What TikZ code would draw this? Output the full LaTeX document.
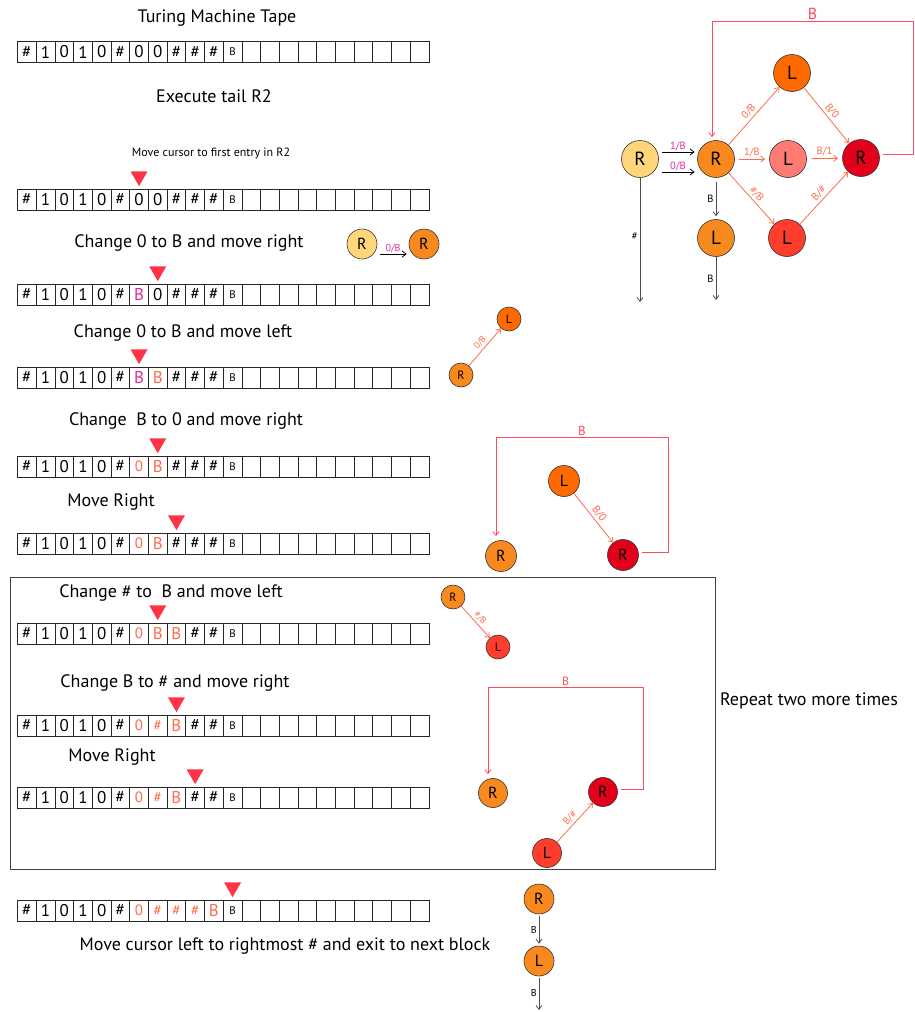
\documentclass[tikz,border=0pt]{standalone}
\usepackage{fontspec}
\setmainfont{PT Sans}
\usetikzlibrary{arrows.meta,shapes.geometric}

\definecolor{cursorred}{HTML}{FF3347}
\definecolor{salmon}{HTML}{FF6B4D}
\definecolor{mag}{HTML}{DD2A9B}
\definecolor{nyellow}{HTML}{FFD679}
\definecolor{norange}{HTML}{F7891F}
\definecolor{ndark}{HTML}{FF6A00}
\definecolor{npink}{HTML}{FF7B73}
\definecolor{nred}{HTML}{FF3D2D}
\definecolor{ncrim}{HTML}{E3001B}
\definecolor{loopred}{HTML}{FF4A5C}

\newcommand\fs[1]{\fontsize{#1}{#1}\selectfont}
\newcommand\sal[1]{\textcolor{salmon}{#1}}
\newcommand\salz{\sal{\fs{15}0}}
\newcommand\salh{\sal{\fs{15}\#}}
\newcommand\salB{\sal{B}}
\newcommand\magB{\textcolor{mag}{B}}
\newcommand\Bsm{{\fs{11}B}}

% one tape row: name prefix, top edge, the twelve written cells (ten blanks follow)
\newcommand\taperow[3]{%
  \foreach \c [count=\i from 0] in {#3,{},{},{},{},{},{},{},{},{},{}}
    \node[cell] (#1-\i) at ({17.5+(\i+0.5)*18.7},{#2+10.5}) {\c};
}

\begin{document}
\begin{tikzpicture}[x=1pt,y=-1pt,
  cell/.style={draw=black!85, line width=0.8pt, minimum width=18.7pt,
    minimum height=21pt, inner sep=0pt, font=\fs{17}},
  cursor/.style={regular polygon, regular polygon sides=3,
    shape border rotate=180, fill=cursorred, minimum size=19.6pt, inner sep=0pt},
  heading/.style={font=\fs{18}, inner sep=0pt},
  state/.style={circle, draw=black!80, line width=0.6pt, inner sep=0pt},
  bigstate/.style={state, minimum size=37pt, font=\fs{19}},
  midstate/.style={state, minimum size=31pt, font=\fs{16}},
  smallstate/.style={state, minimum size=24pt, font=\fs{12}},
  arr/.style={-{Straight Barb[length=4pt,width=6pt]}, line width=0.8pt},
  grey arr/.style={arr, draw=black!70},
  sal arr/.style={arr, draw=salmon},
  loop arr/.style={arr, draw=loopred},
  elab/.style={font=\fs{10.5}, inner sep=2pt},
]
\useasboundingbox (0,0) rectangle (914,1012);

% ---------- headings ----------
\node[heading] (title) at (217,18) {Turing Machine Tape};
\node[heading] (exec) at (214,96) {Execute tail R2};
\node[heading, font=\fs{12}] (movecur) at (211,153) {Move cursor to first entry in R2};
\node[heading] (h3) at (189,243) {Change 0 to B and move right};
\node[heading] (h4) at (183,333) {Change 0 to B and move left};
\node[heading] (h5) at (186,421) {Change\ \ B to 0 and move right};
\node[heading] (h6) at (111,502) {Move Right};
\node[heading] (h7) at (171,593) {Change \# to\ \ B and move left};
\node[heading] (h8) at (175,683) {Change B to \# and move right};
\node[heading] (h9) at (112,757) {Move Right};
\node[heading] (h10) at (285,946) {Move cursor left to rightmost \# and exit to next block};
\node[heading] (rep) at (809,701) {Repeat two more times};

% ---------- tapes ----------
\taperow{T1}{41.5}{\#,1,0,1,0,\#,0,0,\#,\#,\#,\Bsm}
\taperow{T2}{189}{\#,1,0,1,0,\#,0,0,\#,\#,\#,\Bsm}
\taperow{T3}{284}{\#,1,0,1,0,\#,\magB,0,\#,\#,\#,\Bsm}
\taperow{T4}{367}{\#,1,0,1,0,\#,\magB,\salB,\#,\#,\#,\Bsm}
\taperow{T5}{456}{\#,1,0,1,0,\#,\salz,\salB,\#,\#,\#,\Bsm}
\taperow{T6}{533}{\#,1,0,1,0,\#,\salz,\salB,\#,\#,\#,\Bsm}
\taperow{T7}{623}{\#,1,0,1,0,\#,\salz,\salB,\salB,\#,\#,\Bsm}
\taperow{T8}{715}{\#,1,0,1,0,\#,\salz,\salh,\salB,\#,\#,\Bsm}
\taperow{T9}{787}{\#,1,0,1,0,\#,\salz,\salh,\salB,\#,\#,\Bsm}
\taperow{T10}{900}{\#,1,0,1,0,\#,\salz,\salh,\salh,\salh,\salB,\Bsm}

% ---------- read/write head markers ----------
\node[cursor] (k2) at ([yshift=12.3pt]T2-6.north) {};
\node[cursor] (k3) at ([yshift=12.3pt]T3-7.north) {};
\node[cursor] (k4) at ([yshift=12.3pt]T4-6.north) {};
\node[cursor] (k5) at ([yshift=12.3pt]T5-7.north) {};
\node[cursor] (k6) at ([yshift=12.3pt]T6-8.north) {};
\node[cursor] (k7) at ([yshift=12.3pt]T7-7.north) {};
\node[cursor] (k8) at ([yshift=12.3pt]T8-8.north) {};
\node[cursor] (k9) at ([yshift=12.3pt]T9-9.north) {};
\node[cursor] (k10) at ([yshift=12.3pt]T10-11.north) {};

% ---------- full machine for tail R2 ----------
\node[bigstate, fill=nyellow] (s0) at (640,159) {R};
\node[bigstate, fill=norange] (m) at (716,159) {R};
\node[bigstate, fill=ndark] (tl) at (792,73) {L};
\node[bigstate, fill=npink] (ml) at (788,159) {L};
\node[bigstate, fill=nred] (bl) at (787,238) {L};
\node[bigstate, fill=ncrim] (rr) at (861,158) {R};
\node[bigstate, fill=norange] (dl) at (716,238) {L};
\coordinate (s0end) at (640,302);
\coordinate (dlend) at (716,300);

\draw[arr, shorten <=3.5pt, shorten >=2.5pt] ([yshift=7pt]s0.east) --
  node[above, elab, inner sep=1pt, text=mag] {1/B} ([yshift=7pt]m.west);
\draw[arr, shorten <=3.5pt, shorten >=2.5pt] ([yshift=-13pt]s0.east) --
  node[above, elab, inner sep=1pt, text=mag] {0/B} ([yshift=-13pt]m.west);
\draw[grey arr] (s0) -- node[left, elab, pos=0.47] {\#} (s0end);
\draw[grey arr, shorten <=4pt, shorten >=3pt] (m) -- node[left, elab] {B} (dl);
\draw[grey arr] (dl) -- node[left, elab] {B} (dlend);

\draw[sal arr] (m) -- node[sloped, above, elab, text=salmon] {0/B} (tl);
\draw[sal arr, shorten <=4pt, shorten >=4pt] (m) -- node[above, elab, text=salmon] {1/B} (ml);
\draw[sal arr] (m) -- node[sloped, above, elab, text=salmon] {\#/B} (bl);
\draw[sal arr] (tl) -- node[sloped, above, elab, text=salmon] {B/0} (rr);
\draw[sal arr, shorten <=4pt, shorten >=4pt] (ml) -- node[above, elab, text=salmon] {B/1} (rr);
\draw[sal arr] (bl) -- node[sloped, above, elab, text=salmon] {B/\#} (rr);
\draw[loop arr, shorten <=3pt, shorten >=3pt] ([yshift=4pt]rr.east) -| (913,21)
  -| node[pos=0.25, above, inner sep=1pt, font=\fs{16}, text=loopred] {B} ([xshift=-4pt]m.north);

% ---------- step: change 0 to B and move right ----------
\node[midstate, fill=nyellow, minimum size=30pt] (a1) at (362,244) {R};
\node[midstate, fill=norange, minimum size=30pt] (a2) at (424,244) {R};
\draw[arr, shorten <=3pt, shorten >=2pt] ([yshift=-10pt]a1.east) --
  node[above, elab, font=\fs{10}, inner sep=0.3pt, text=mag] {0/B} ([yshift=-10pt]a2.west);

% ---------- step: change 0 to B and move left ----------
\node[smallstate, fill=norange] (b1) at (461,375) {R};
\node[smallstate, fill=ndark] (b2) at (509,319) {L};
\draw[sal arr] (b1) -- node[sloped, above, elab, font=\fs{9}, text=salmon] {0/B} (b2);

% ---------- step: change B to 0, move right ----------
\node[midstate, fill=ndark] (c1) at (564,481) {L};
\node[midstate, fill=ncrim] (c2) at (623,555) {R};
\node[midstate, fill=norange] (c3) at (501,556) {R};
\draw[sal arr] (c1) -- node[sloped, above, elab, font=\fs{11}, text=salmon] {B/0} (c2);
\draw[loop arr, shorten <=3pt, shorten >=4pt] ([yshift=3pt]c2.east) -| (668,437)
  -| node[pos=0.25, above, inner sep=1pt, font=\fs{13}, text=loopred] {B} ([xshift=-5pt]c3.north);

% ---------- repeated block ----------
\draw[black!75, line width=1pt] (10,577) rectangle (715,869);

\node[smallstate, fill=norange] (d1) at (453,597) {R};
\node[smallstate, fill=nred] (d2) at (498,647) {L};
\draw[sal arr] (d1) -- node[sloped, above, elab, font=\fs{9}, text=salmon] {\#/B} (d2);

\node[midstate, fill=norange, minimum size=29pt] (e1) at (493,793) {R};
\node[midstate, fill=ncrim, minimum size=29pt] (e2) at (603,792) {R};
\node[midstate, fill=nred, minimum size=29pt] (e3) at (547,853) {L};
\draw[sal arr] (e3) -- node[sloped, above, elab, font=\fs{10}, text=salmon] {B/\#} (e2);
\draw[loop arr, shorten <=3pt, shorten >=4pt] ([yshift=3pt]e2.east) -| (643,687)
  -| node[pos=0.25, above, inner sep=1pt, font=\fs{12}, text=loopred] {B} ([xshift=-5pt]e1.north);

% ---------- exit to the next block ----------
\node[midstate, fill=norange, minimum size=30pt] (f1) at (539,899) {R};
\node[midstate, fill=norange, minimum size=30pt] (f2) at (539,961) {L};
\coordinate (f2end) at (539,1010);
\draw[grey arr, shorten <=2pt, shorten >=2pt] (f1) -- node[left, elab, font=\fs{10}] {B} (f2);
\draw[grey arr, shorten <=2pt] (f2) -- node[left, elab, font=\fs{10}] {B} (f2end);
\end{tikzpicture}
\end{document}
